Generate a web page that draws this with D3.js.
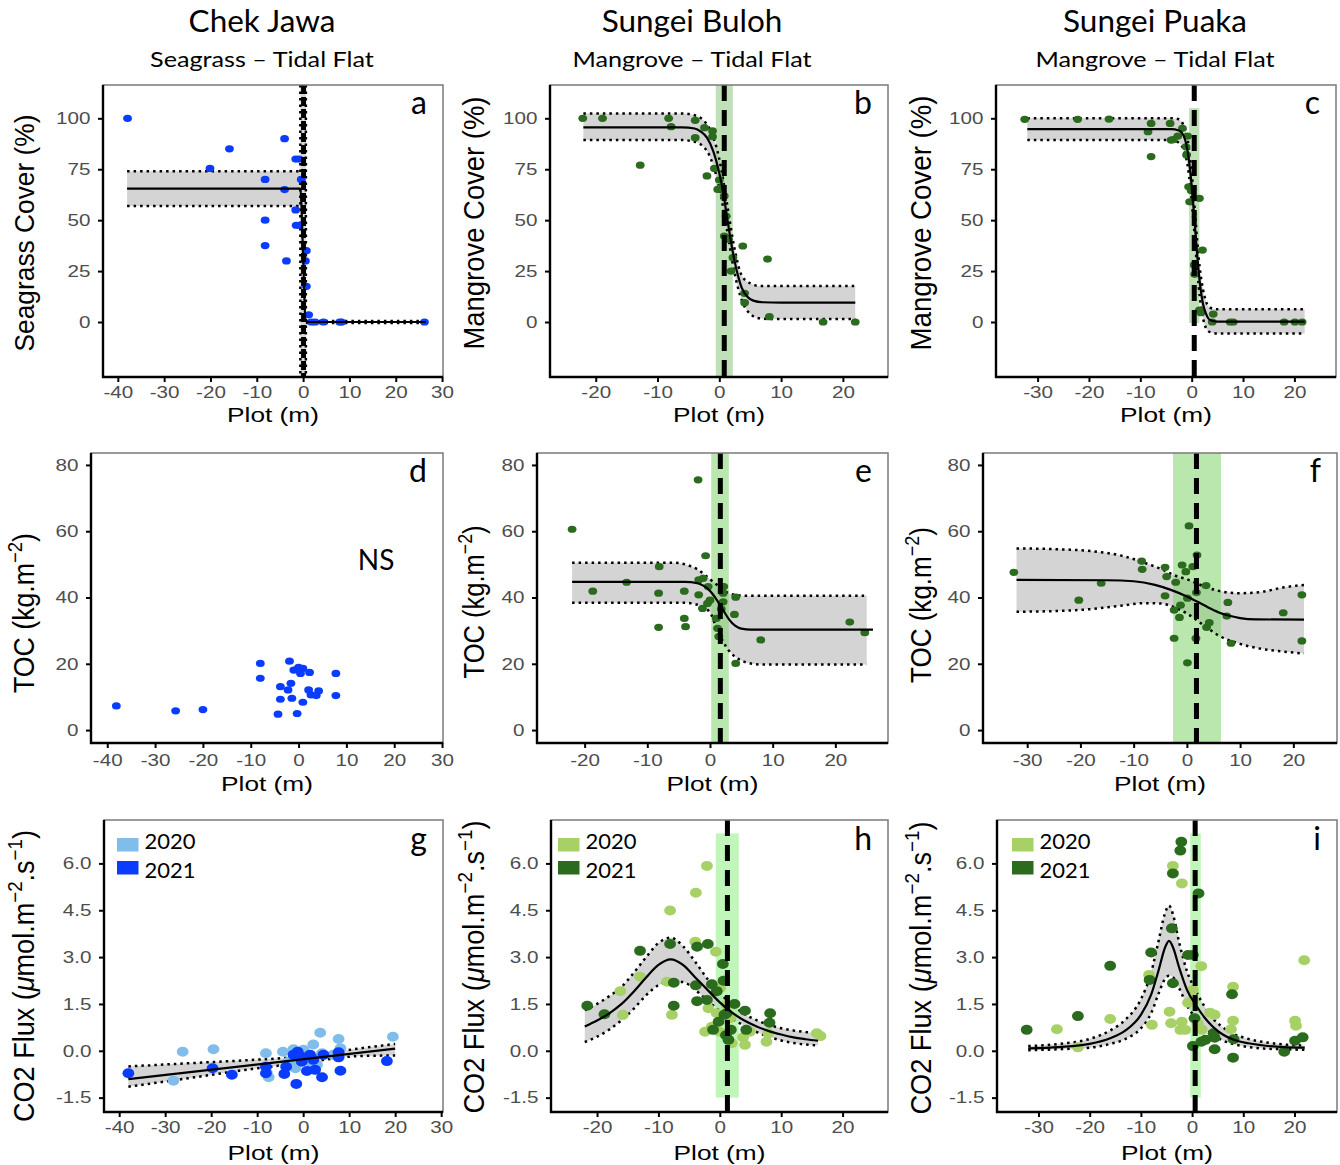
<!DOCTYPE html>
<html>
<head>
<meta charset="utf-8">
<script src="https://cdn.jsdelivr.net/npm/d3@7"></script>
<style>
body { margin: 0; background: #fff; }
</style>
</head>
<body>
<script>
// ---- values ----
var sites = ["Chek Jawa", "Sungei Buloh", "Sungei Puaka"];
var habitats = ["Seagrass \u2013 Tidal Flat", "Mangrove \u2013 Tidal Flat", "Mangrove \u2013 Tidal Flat"];
var years = ["2020", "2021"];
var letters = ["a", "b", "c", "d", "e", "f", "g", "h", "i"];

var xTicksCJ = [-40, -30, -20, -10, 0, 10, 20, 30];
var xTicksSB = [-20, -10, 0, 10, 20];
var xTicksSP = [-30, -20, -10, 0, 10, 20];
var coverTicks = [0, 25, 50, 75, 100];
var tocTicks = [0, 20, 40, 60, 80];
var fluxTicks = [-1.5, 0, 1.5, 3, 4.5, 6];

// a - Chek Jawa seagrass cover
var cjCoverPts = [[-37.9,100],[-20.1,75.4],[-15.9,85],[-4.0,90],[-8.2,70],[-4.0,65],[-8.2,50],[-8.2,37.5],[-3.6,30],
  [-1.6,80],[-0.9,80],[-0.4,70],[-1.6,55],[-1.5,47.5],[-0.9,47.5],[0.7,35],[0.5,30],[0.7,17.5],[1.2,3.5],
  [1.8,0],[2.6,0],[4.4,0],[7.9,0],[8.3,0],[26.2,0]];
var cjCoverFit = [[-38,65.5],[-0.6,65.5],[0,33],[0.5,1],[1,0],[26.5,0]];
var cjCoverBandL = [[-38,57,74],[-0.6,57,74]];
var cjCoverBandR = [[0.6,-0.5,0.5],[26.5,-0.5,0.5]];
var cjCoverCP = [0.1, -0.6, 0.6];

// b - Sungei Buloh mangrove cover
var sbCoverPts = [[-22.1,100],[-18.9,100],[-8.2,100],[-7.8,95.9],[-12.8,77],[-3.9,99],[-3.9,90.5],[-2.4,95.4],
  [-1.1,93.8],[-1.1,91],[-2.0,71.7],[-0.8,75.4],[0,69.7],[-0.25,65.1],[0.3,66],[0.8,61.9],[1.1,52],[0.8,42.2],
  [1.5,40.6],[2.2,31.6],[1.9,25],[3.8,37.3],[4.1,14.1],[4.1,9.5],[7.8,30.9],[8.1,2.6],[16.8,0],[22.0,0]];
var sbCoverFit = [[-22,95.5],[-6,95.5],[-4,95],[-3,93.5],[-2,90.5],[-1,84],[0,73],[0.6,64],[1.2,52.5],[1.8,41],
  [2.4,31],[3,23],[3.6,17],[4.5,12.5],[5.5,10.5],[7,9.7],[10,9.5],[22,9.5]];
var sbCoverBand = [[-22,89.3,102.4],[-6,89.3,102.4],[-4,88.5,101.5],[-2,84,97],[-1,77,91],[0,66,80],[1.2,46,59],
  [2.4,25,37],[3.6,11,23],[5,4,19],[6.5,1.8,17.7],[8,1.5,17.7],[22,1.5,17.7]];
var sbCoverCP = [0.8, -0.57, 2.19];

// c - Sungei Puaka mangrove cover
var spCoverPts = [[-32.5,99.5],[-22.2,99.5],[-16.1,99.6],[-8.5,93.4],[-7.9,97.5],[-7.9,81.2],[-4.2,97.5],[-4.0,89.3],
  [-3.6,89.5],[-2.7,91.3],[-1.8,95.1],[-0.8,91.3],[-1.1,86],[-1.0,82],[-0.6,66.4],[-0.1,64.5],[-0.4,59],[0.1,65.5],
  [1.5,60.7],[2.1,35.3],[0.5,28],[0.6,23.4],[1.5,5.9],[1.8,4.6],[4.2,3.9],[4.0,0],[7.5,0],[8.1,0],[18.0,0],[20.1,0],[21.5,0]];
var spCoverFit = [[-32,94.7],[-4,94.7],[-2.5,94],[-1.5,91],[-0.8,84],[-0.2,72],[0.3,58],[0.7,45],[1.1,32],[1.6,19],
  [2.2,9],[2.8,4],[3.6,1],[5,0.2],[22,0.2]];
var spCoverBand = [[-32,89.3,100],[-4,89.3,100],[-2.5,88,99.5],[-1.5,84,96],[-0.8,77,90],[-0.2,65,78],[0.3,51,65],
  [0.7,38,52],[1.1,25,39],[1.6,12,26],[2.2,2,16],[2.8,-3,10],[3.6,-5,7],[5,-5.6,6.2],[22,-5.6,6.2]];
var spCoverCP = [0.5, -0.5, 1.5, -0.5, 105];

// d - Chek Jawa TOC (no fit)
var cjTocPts = [[-38.1,7.3],[-25.7,5.8],[-20.0,6.2],[-8.0,20.1],[-8.0,15.6],[-1.9,20.8],[-3.8,13.1],[-1.6,14.1],
  [-2.2,12.1],[-3.8,9.3],[-1.4,9.6],[-4.3,4.8],[-0.3,5.0],[0.9,8.4],[-1.0,18.1],[0,18.9],[0.9,18.6],[0.4,17.1],
  [2.3,17.4],[2.1,12.1],[2.6,10.6],[3.7,10.4],[4.2,11.8],[7.8,17.1],[7.8,10.4]];

// e - Sungei Buloh TOC
var sbTocPts = [[-22.0,60.6],[-18.7,41.9],[-13.3,44.6],[-8.1,49.3],[-8.2,41.3],[-8.2,31.0],[-1.9,75.5],[-4.1,41.9],
  [-4.1,33.7],[-3.9,31.2],[-0.7,52.6],[-1.8,45.3],[-1.1,45.8],[-0.3,43.3],[-1.8,40.8],[0,39.2],[-0.4,38.2],[-1.2,36.7],
  [1.0,33.7],[1.2,30.7],[1.8,36.5],[2.2,43.3],[2.1,38.7],[1.4,28.2],[4.1,40.1],[3.9,34.9],[4.1,20.1],[8.1,27.2],
  [22.3,32.6],[24.7,29.4],[2.1,41.3]];
var sbTocFit = [[-22,44.7],[-4,44.7],[-2,44.3],[-1,43.5],[0,42],[1,39.5],[2,36.5],[3,33.5],[4,31.5],[5,30.6],[6.5,30.3],[26,30.3]];
var sbTocBand = [[-22,38.4,50.5],[-6,38.4,50.5],[-4,38.4,50],[-2,37.8,48.5],[0,35.5,45.5],[1,31,44],[2,27,42.5],
  [3,24,41.3],[4.5,21.5,40.7],[6,20.3,40.5],[8,19.8,40.5],[25,19.8,40.5]];
var sbTocCP = [1.65, 0.2, 3.0];

// f - Sungei Puaka TOC
var spTocPts = [[-32.5,47.6],[-20.3,39.2],[-16.1,44.3],[-8.5,51.0],[-8.4,48.5],[-4.1,49.1],[-3.8,46.3],[-4.1,40.5],
  [-2.1,44.6],[-2.4,36.2],[-2.4,27.7],[-0.9,49.8],[-0.2,47.8],[-1.2,37.7],[-1.4,34.0],[0.1,39.8],[0.4,61.6],[1.1,49.3],
  [1.9,52.8],[1.8,41.5],[1.7,27.7],[0.1,20.3],[3.6,43.6],[4.2,32.4],[3.7,31.0],[7.7,38.5],[7.5,34.4],[8.3,26.2],
  [18.1,35.4],[21.6,40.8],[21.6,26.9]];
var spTocFit = [[-32,45.3],[-15,45.2],[-10,44.9],[-6,43.8],[-3,42.3],[0,40.3],[2,38.7],[4,37],[6,35.5],[8,34.5],
  [10,33.8],[13,33.4],[22,33.3]];
var spTocBand = [[-32,35.7,54.8],[-25,35.9,54.6],[-18,36.5,54],[-12,37.6,52.5],[-8,38.3,50.5],[-5,38.2,48.7],
  [-2,36.8,46.5],[0,35.2,45.5],[3,31.8,43.5],[6,28.5,42],[10,26,41.3],[14,24.5,41.7],[18,23.7,43],[22,23.1,43.8]];
var spTocCP = [1.8, -2.6, 6.4];

// g - Chek Jawa CO2 flux
var cjFlux2020 = [[-26.2,-0.03],[-19.5,0.05],[-28.2,-0.96],[-8.1,-0.08],[-7.9,-0.7],[-7.5,-0.85],[-4.4,-0.03],
  [-2.1,0.05],[0.1,0.03],[3.7,0.58],[2.2,0.2],[7.7,0.38],[8.1,0.08],[19.5,0.45],[-1.7,-0.56],[-2.2,-0.45],
  [-3.2,-0.35],[1.9,-0.4],[3.0,-0.45],[4.1,-0.08],[6.6,-0.13],[0.1,-0.24]];
var cjFlux2021 = [[-38.0,-0.72],[-19.7,-0.56],[-15.5,-0.77],[-8.1,-0.51],[-8.1,-0.72],[-4.1,-0.74],[-3.7,-0.51],
  [-1.5,-1.06],[-2.1,-0.13],[-1.2,-0.03],[-0.65,-0.17],[-0.3,-0.35],[0.8,-0.65],[2.6,-0.61],[4.1,-0.85],[1.5,-0.13],
  [2.2,-0.29],[4.4,-0.13],[7.7,-0.05],[7.7,-0.21],[8.1,-0.64],[18.2,-0.33]];
var cjFluxFit = [[-38,-0.91],[20,0.07]];
var cjFluxBand = [[-38,-1.15,-0.5],[-25,-0.88,-0.4],[-12,-0.6,-0.3],[-4,-0.45,-0.23],[4,-0.3,-0.1],[12,-0.17,0.07],[20,-0.15,0.22]];

// h - Sungei Buloh CO2 flux
var sbFlux2020 = [[-2.1,5.92],[-3.9,5.06],[-8.1,4.49],[-4.0,3.49],[-0.65,3.17],[-13.0,2.37],[-16.2,1.91],[-15.8,1.15],
  [-7.8,1.15],[-8.6,2.21],[0.05,2.0],[-1.85,1.36],[-0.5,1.2],[-2.4,0.61],[-1.3,0.77],[-0.06,0.61],[1.7,1.04],
  [1.95,0.24],[3.8,0.43],[4.1,0.19],[7.9,0.56],[7.6,0.29],[15.8,0.56],[16.4,0.47],[4.9,0.61],[1.1,1.47]];
var sbFlux2021 = [[-21.6,1.44],[-18.8,1.17],[-13.0,3.2],[-8.1,3.42],[-7.5,2.18],[-7.5,1.44],[-3.7,3.33],[-1.95,3.42],
  [-3.9,2.1],[-3.7,1.59],[-2.1,1.63],[-1.3,2.13],[-0.5,1.91],[0.5,2.78],[0.6,2.24],[-1.1,0.67],[-0.2,0.93],[1.0,0.5],
  [1.8,0.67],[1.1,1.2],[2.4,1.5],[4.1,1.28],[4.3,0.67],[8.2,1.2],[8.1,0.9],[0.75,1.15],[1.4,0.35]];
var sbFluxFit = [[-22,0.78],[-20,0.97],[-18,1.2],[-16,1.5],[-14,1.9],[-12,2.35],[-10,2.75],[-8,2.93],[-6,2.75],
  [-4,2.35],[-2,1.95],[0,1.55],[2,1.22],[4,0.97],[6,0.78],[8,0.63],[10,0.52],[12,0.43],[14,0.37],[16,0.32]];
var sbFluxBand = [[-22,0.28,1.3],[-20,0.45,1.5],[-18,0.68,1.75],[-16,0.98,2.05],[-14,1.35,2.5],[-12,1.78,3.0],
  [-10,2.1,3.45],[-8,2.22,3.62],[-6,2.2,3.35],[-4,1.95,2.85],[-2,1.6,2.3],[0,1.28,1.85],[2,1.02,1.48],[4,0.8,1.18],
  [6,0.6,0.98],[8,0.45,0.83],[10,0.33,0.72],[12,0.25,0.65],[14,0.2,0.6],[16,0.17,0.55]];
var sbFluxCP = [1.24, -0.65, 3.09, -1.5, 6.96];

// i - Sungei Puaka CO2 flux
var spFlux2020 = [[-26.4,0.69],[-22.3,0.11],[-16.0,1.02],[-7.85,0.83],[-8.4,2.43],[-4.4,1.25],[-4.1,0.88],[-3.75,5.92],
  [-2.0,5.36],[-2.0,0.93],[-1.35,0.67],[-2.3,0.67],[-0.8,1.54],[1.8,2.71],[0.15,1.95],[1.9,0.67],[1.1,0.88],[3.5,1.22],
  [4.4,1.15],[8.0,2.05],[8.0,0.96],[7.6,0.69],[20.1,0.96],[20.3,0.8],[21.9,2.9],[0.15,1.63]];
var spFlux2021 = [[-32.3,0.67],[-22.3,1.11],[-16.0,2.72],[-8.0,3.15],[-8.3,2.27],[-3.95,3.92],[-3.75,2.16],[-2.1,6.69],
  [-2.3,6.41],[-3.75,5.68],[-0.8,3.07],[0.15,3.07],[1.25,5.04],[0.47,1.04],[0.15,0.15],[1.8,0.29],[4.2,0.56],[4.4,0.42],
  [4.4,0.05],[2.6,0.35],[7.8,1.81],[8.1,0.37],[8.0,-0.22],[18.0,-0.03],[20.1,0.32],[21.6,0.43]];
var spFluxFit = [[-32,0.08],[-26,0.12],[-20,0.22],[-16,0.4],[-13,0.65],[-10,1.15],[-8,1.8],[-6.5,2.6],[-5.3,3.3],
  [-4.5,3.52],[-3.7,3.3],[-2.5,2.65],[-1,1.95],[0.8,1.45],[2.5,1.05],[4,0.78],[6,0.52],[8,0.36],[11,0.24],[14,0.17],
  [18,0.12],[22,0.1]];
var spFluxBand = [[-32,0.02,0.15],[-26,0.05,0.22],[-20,0.1,0.38],[-16,0.22,0.65],[-13,0.38,1.0],[-10,0.72,1.65],
  [-8,1.2,2.5],[-6.5,1.85,3.55],[-5.3,2.3,4.4],[-4.5,2.4,4.65],[-3.7,2.35,4.35],[-2.5,2.0,3.45],[-1,1.45,2.55],
  [0.8,1.05,1.9],[2.5,0.75,1.4],[4,0.52,1.05],[6,0.33,0.75],[8,0.22,0.55],[11,0.12,0.38],[14,0.07,0.28],
  [18,0.05,0.2],[22,0.03,0.17]];
var spFluxCP = [0.6, -0.37, 1.7, -1.5, 6.96];

// ---- styling ----
var SANS = "'Liberation Sans', Arial, sans-serif";
var CAL = "Lato, 'Open Sans', sans-serif";
var BLUE = "#0a3cff", BLUE_LT = "#80bdea";
var GREEN = "#2a6b1e", GREEN_LT = "#a7d166";

var svg = d3.select("body").append("svg")
  .attr("width", 1340).attr("height", 1165);

var rows = [
  { top: 85, bottom: 377, yDom: [-27.0, 116.35], ticks: coverTicks, fmt: function(d){ return String(d); }, pad: 4, rx: 4.4, ry: 3.6 },
  { top: 453, bottom: 743, yDom: [-3.9, 83.6], ticks: tocTicks, fmt: function(d){ return String(d); }, pad: 6.5, rx: 4.4, ry: 3.6 },
  { top: 820, bottom: 1112, yDom: [-1.96, 7.39], ticks: fluxTicks, fmt: function(d){ return d.toFixed(1); }, pad: 4, rx: 5.9, ry: 5 }
];

var coverTitle = function(name){ return [name + " Cover (%)"]; };
var tocTitle = ["TOC (kg.m", {sup: "\u22122"}, ")"];
var fluxTitle = ["CO2 Flux (", {it: "\u03bc"}, "mol.m", {sup: "\u22122"}, ".s", {sup: "\u22121"}, ")"];

var panels = [
  { row: 0, col: 0, left: 103, right: 443, xDom: [-43.2, 30.2], xTicks: xTicksCJ,
    series: [{data: cjCoverPts, color: BLUE}], fit: cjCoverFit, bands: [cjCoverBandL, cjCoverBandR],
    cp: cjCoverCP, cpFill: "#d6d6d6", cpOpacity: 1, cpDotted: true, dash: "9,3",
    ytitle: coverTitle("Seagrass"), ysize: 24, ylen: 237, yc: 233 },
  { row: 0, col: 1, left: 550, right: 888, xDom: [-27.4, 27.3], xTicks: xTicksSB,
    series: [{data: sbCoverPts, color: GREEN}], fit: sbCoverFit, bands: [sbCoverBand],
    cp: sbCoverCP, cpFill: "#8cc87e", cpOpacity: 0.55,
    ytitle: coverTitle("Mangrove"), ysize: 26, ylen: 253, yc: 223 },
  { row: 0, col: 2, left: 996, right: 1336, xDom: [-38.1, 28.1], xTicks: xTicksSP,
    series: [{data: spCoverPts, color: GREEN}], fit: spCoverFit, bands: [spCoverBand],
    cp: spCoverCP, cpFill: "#8cc87e", cpOpacity: 0.55,
    ytitle: coverTitle("Mangrove"), ysize: 26, ylen: 255, yc: 223 },
  { row: 1, col: 0, left: 91, right: 443, xDom: [-43.4, 30.2], xTicks: xTicksCJ,
    series: [{data: cjTocPts, color: BLUE}], bands: [],
    ytitle: tocTitle, ysize: 26, ylen: 160, yc: 613, note: "NS" },
  { row: 1, col: 1, left: 537, right: 888, xDom: [-27.6, 28.4], xTicks: xTicksSB,
    series: [{data: sbTocPts, color: GREEN}], fit: sbTocFit, bands: [sbTocBand],
    cp: sbTocCP, cpFill: "#7fd36c", cpOpacity: 0.55,
    ytitle: tocTitle, ysize: 26, ylen: 153, yc: 602 },
  { row: 1, col: 2, left: 983, right: 1337, xDom: [-38.3, 28.2], xTicks: xTicksSP,
    series: [{data: spTocPts, color: GREEN}], fit: spTocFit, bands: [spTocBand],
    cp: spTocCP, cpFill: "#7fd36c", cpOpacity: 0.55,
    ytitle: tocTitle, ysize: 26, ylen: 156, yc: 605 },
  { row: 2, col: 0, left: 104, right: 443, xDom: [-43.3, 30.4], xTicks: xTicksCJ,
    series: [{data: cjFlux2020, color: BLUE_LT}, {data: cjFlux2021, color: BLUE}], fit: cjFluxFit, bands: [cjFluxBand],
    ytitle: fluxTitle, ysize: 26, ylen: 292, yc: 976, legend: 13 },
  { row: 2, col: 1, left: 551, right: 888, xDom: [-27.5, 27.4], xTicks: xTicksSB,
    series: [{data: sbFlux2020, color: GREEN_LT}, {data: sbFlux2021, color: GREEN}], fit: sbFluxFit, bands: [sbFluxBand],
    cp: sbFluxCP, cpFill: "#a6f29c", cpOpacity: 0.7,
    ytitle: fluxTitle, ysize: 26, ylen: 293, yc: 967, legend: 7 },
  { row: 2, col: 2, left: 997, right: 1337, xDom: [-38.1, 28.3], xTicks: xTicksSP,
    series: [{data: spFlux2020, color: GREEN_LT}, {data: spFlux2021, color: GREEN}], fit: spFluxFit, bands: [spFluxBand],
    cp: spFluxCP, cpFill: "#a6f29c", cpOpacity: 0.7,
    ytitle: fluxTitle, ysize: 26, ylen: 293, yc: 968, legend: 15 }
];

var ytitleX = [34, 484, 931];

function stretchedText(parent, x, y, sx, rot) {
  var tr = "translate(" + x + "," + y + ") scale(" + sx + ",1)";
  if (rot) tr += " rotate(" + rot + ")";
  return parent.append("text").attr("transform", tr);
}

// plain, italic and superscript runs (superscripts raised with baseline-shift)
function addParts(t, parts, size) {
  var supSize = Math.round(size * 0.7);
  parts.forEach(function(p) {
    if (typeof p === "string") t.append("tspan").text(p);
    else if (p.it) t.append("tspan").attr("font-style", "italic").text(p.it);
    else t.append("tspan").attr("font-size", supSize).attr("baseline-shift", Math.round(size * 0.4)).text(p.sup);
  });
}

panels.forEach(function(p, k) {
  var r = rows[p.row];
  var x = d3.scaleLinear().domain(p.xDom).range([p.left, p.right]);
  var y = d3.scaleLinear().domain(r.yDom).range([r.bottom, r.top]);
  var g = svg.append("g");

  svg.append("clipPath").attr("id", "clip" + k).append("rect")
    .attr("x", p.left).attr("y", r.top).attr("width", p.right - p.left).attr("height", r.bottom - r.top);
  var body = g.append("g").attr("clip-path", "url(#clip" + k + ")");

  var area = d3.area().curve(d3.curveMonotoneX)
    .x(function(d){ return x(d[0]); }).y0(function(d){ return y(d[1]); }).y1(function(d){ return y(d[2]); });
  var lo = d3.line().curve(d3.curveMonotoneX).x(function(d){ return x(d[0]); }).y(function(d){ return y(d[1]); });
  var hi = d3.line().curve(d3.curveMonotoneX).x(function(d){ return x(d[0]); }).y(function(d){ return y(d[2]); });

  // confidence band
  p.bands.forEach(function(b) {
    body.append("path").attr("d", area(b)).attr("fill", "#d4d4d4");
  });

  // changepoint interval
  if (p.cp) {
    var yTop = p.cp.length > 3 ? y(p.cp[4]) : r.top;
    var yBot = p.cp.length > 3 ? y(p.cp[3]) : r.bottom;
    body.append("rect")
      .attr("x", x(p.cp[1])).attr("width", x(p.cp[2]) - x(p.cp[1]))
      .attr("y", yTop).attr("height", yBot - yTop)
      .attr("fill", p.cpFill).attr("opacity", p.cpOpacity);
  }

  // dotted band edges
  p.bands.forEach(function(b) {
    [lo, hi].forEach(function(fn) {
      body.append("path").attr("d", fn(b)).attr("fill", "none")
        .attr("stroke", "#000").attr("stroke-width", 2.5).attr("stroke-dasharray", "2.5,4");
    });
  });
  if (p.cpDotted) {
    [p.cp[1], p.cp[2]].forEach(function(v) {
      body.append("line").attr("x1", x(v)).attr("x2", x(v)).attr("y1", r.top).attr("y2", r.bottom)
        .attr("stroke", "#000").attr("stroke-width", 2.5).attr("stroke-dasharray", "2.5,4");
    });
  }

  // points
  p.series.forEach(function(s) {
    body.selectAll(null).data(s.data).enter().append("ellipse")
      .attr("cx", function(d){ return x(d[0]); }).attr("cy", function(d){ return y(d[1]); })
      .attr("rx", r.rx).attr("ry", r.ry).attr("fill", s.color);
  });

  // fitted curve
  if (p.fit) {
    body.append("path")
      .attr("d", d3.line().curve(d3.curveMonotoneX).x(function(d){ return x(d[0]); }).y(function(d){ return y(d[1]); })(p.fit))
      .attr("fill", "none").attr("stroke", "#000").attr("stroke-width", 2.2);
  }

  // changepoint
  if (p.cp) {
    body.append("line").attr("x1", x(p.cp[0])).attr("x2", x(p.cp[0])).attr("y1", r.top).attr("y2", r.bottom)
      .attr("stroke", "#000").attr("stroke-width", 5).attr("stroke-dasharray", p.dash || "16,9");
  }

  // frame
  g.append("rect").attr("x", p.left).attr("y", r.top).attr("width", p.right - p.left).attr("height", r.bottom - r.top)
    .attr("fill", "none").attr("stroke", "#7a7a7a").attr("stroke-width", 1.5);
  g.append("line").attr("x1", p.left).attr("x2", p.left).attr("y1", r.top).attr("y2", r.bottom + 1)
    .attr("stroke", "#000").attr("stroke-width", 2.4);
  g.append("line").attr("x1", p.left - 1).attr("x2", p.right).attr("y1", r.bottom).attr("y2", r.bottom)
    .attr("stroke", "#000").attr("stroke-width", 2.4);

  // axes
  var ax = g.append("g").attr("transform", "translate(0," + r.bottom + ")")
    .call(d3.axisBottom(x).tickValues(p.xTicks).tickSize(5).tickSizeOuter(0).tickPadding(r.pad)
      .tickFormat(function(d){ return String(d); }));
  var ay = g.append("g").attr("transform", "translate(" + p.left + ",0)")
    .call(d3.axisLeft(y).tickValues(r.ticks).tickSize(5).tickSizeOuter(0).tickPadding(5).tickFormat(r.fmt));
  [ax, ay].forEach(function(a) {
    a.select(".domain").remove();
    a.selectAll(".tick line").attr("stroke", "#000").attr("stroke-width", 2);
    a.selectAll(".tick text").attr("font-family", SANS).attr("font-size", 16.5).attr("fill", "#4d4d4d")
      .attr("transform", "scale(1.25,1)");
  });

  // axis titles
  stretchedText(g, (p.left + p.right) / 2, r.bottom + (p.row === 0 ? 45 : 48), 1.25)
    .attr("text-anchor", "middle").attr("font-family", SANS).attr("font-size", 21).text("Plot (m)");

  var yt = stretchedText(g, ytitleX[p.col], p.yc, 1.12, -90)
    .attr("text-anchor", "middle").attr("font-family", SANS).attr("font-size", p.ysize)
    .attr("textLength", p.ylen).attr("lengthAdjust", "spacingAndGlyphs");
  addParts(yt, p.ytitle, p.ysize);

  // panel letter
  g.append("text").attr("x", p.right - 16).attr("y", r.top + (p.row === 2 ? 30 : 29))
    .attr("text-anchor", "end").attr("font-family", CAL).attr("font-size", 32).text(letters[k]);

  if (p.note) {
    g.append("text").attr("x", x(16.2)).attr("y", y(48.3)).attr("text-anchor", "middle")
      .attr("font-family", CAL).attr("font-size", 28).text(p.note);
  }

  // legend
  if (p.legend != null) {
    var lg = g.append("g").attr("transform", "translate(" + (p.left + p.legend) + "," + (r.top + 18) + ")");
    p.series.forEach(function(s, i) {
      lg.append("rect").attr("x", 0).attr("y", i * 23).attr("width", 21.5).attr("height", 13.5).attr("fill", s.color);
      lg.append("text").attr("x", 27.5).attr("y", i * 28.5 + 11).attr("font-family", CAL).attr("font-size", 22)
        .text(years[i]);
    });
  }
});

// column headers
var titleX = [262, 692, 1155];
sites.forEach(function(s, i) {
  stretchedText(svg, titleX[i], 32, 1.05).attr("text-anchor", "middle").attr("font-family", CAL)
    .attr("font-size", 30).text(s);
  stretchedText(svg, titleX[i], 67, 1.2).attr("text-anchor", "middle").attr("font-family", CAL)
    .attr("font-size", 21).text(habitats[i]);
});
</script>
</body>
</html>
